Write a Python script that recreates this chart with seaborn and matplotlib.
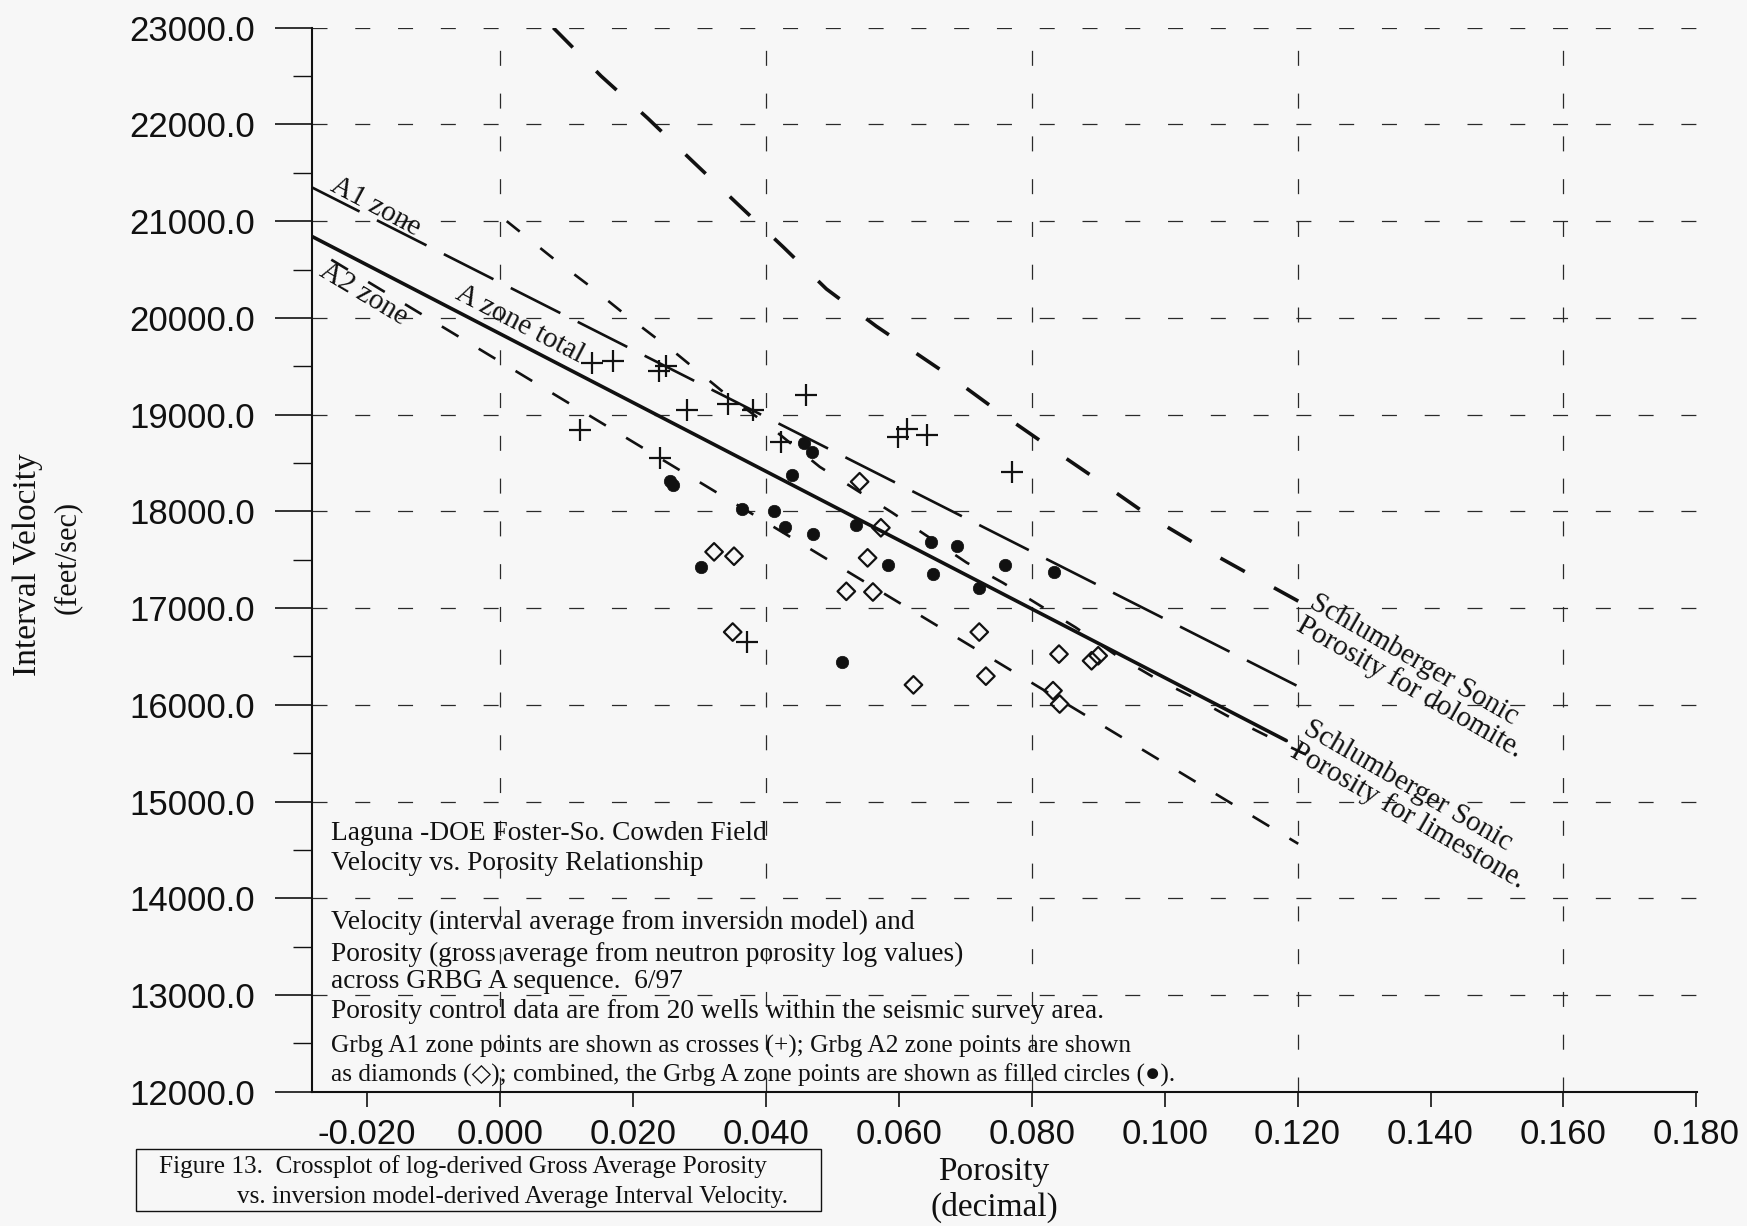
import matplotlib
matplotlib.use("Agg")
import matplotlib.pyplot as plt
import seaborn as sns
from matplotlib.ticker import MultipleLocator, FuncFormatter
from matplotlib.patches import Rectangle

# ---------------- data ----------------
# Grbg A1 zone points (crosses)
a1_porosity = [0.0138, 0.0170, 0.0239, 0.0249, 0.0281, 0.0343, 0.0380, 0.0121,
               0.0241, 0.0461, 0.0423, 0.0599, 0.0612, 0.0642, 0.0771, 0.0371]
a1_velocity = [19533, 19557, 19446, 19498, 19049, 19108, 19049, 18842,
               18555, 19204, 18721, 18772, 18847, 18790, 18410, 16648]

# Grbg A2 zone points (open diamonds)
a2_porosity = [0.0322, 0.0352, 0.0541, 0.0573, 0.0553, 0.0521, 0.0561, 0.0350,
               0.0721, 0.0841, 0.0890, 0.0900, 0.0731, 0.0622, 0.0832, 0.0842]
a2_velocity = [17581, 17536, 18306, 17830, 17519, 17173, 17166, 16752,
               16752, 16524, 16455, 16507, 16296, 16206, 16146, 16008]

# Grbg A combined points (filled circles)
a_porosity = [0.0255, 0.0260, 0.0458, 0.0469, 0.0439, 0.0364, 0.0412, 0.0429,
              0.0471, 0.0536, 0.0649, 0.0688, 0.0584, 0.0651, 0.0720, 0.0760,
              0.0833, 0.0303, 0.0515]
a_velocity = [18313, 18272, 18704, 18610, 18375, 18023, 18002, 17840,
              17764, 17857, 17685, 17640, 17443, 17356, 17208, 17443,
              17372, 17425, 16441]

# Regression lines (end points)
a1_fit_x = [-0.0286, 0.1199]
a1_fit_y = [21359, 16197]
a2_fit_x = [-0.0254, 0.1201]
a2_fit_y = [20602, 14563]
atot_fit_x = [-0.0296, 0.1183]
atot_fit_y = [20888, 15630]

# Schlumberger sonic porosity curves
dolomite_x = [0.0080, 0.0152, 0.0222, 0.0290, 0.0357, 0.0426, 0.0491, 0.0566,
              0.0677, 0.0752, 0.0828, 0.0905, 0.0980, 0.1060, 0.1141, 0.1221]
dolomite_y = [23000, 22500, 22065, 21617, 21180, 20733, 20299, 19914,
              19397, 19020, 18658, 18297, 17936, 17608, 17299, 16996]
limestone_x = [0.0010, 0.0081, 0.0134, 0.0185, 0.0267, 0.0334, 0.0409, 0.0481,
               0.0590, 0.0702, 0.0757, 0.0866, 0.0928, 0.0988, 0.1048, 0.1103,
               0.1163, 0.1221]
limestone_y = [21000, 20609, 20334, 20052, 19621, 19243, 18860, 18460,
               17987, 17470, 17260, 16800, 16507, 16267, 16060, 15853,
               15647, 15458]

# porosity values that carry a vertical grid line
x_grid_positions = [0.0, 0.04, 0.08, 0.12, 0.16]

# ---------------- style ----------------
sns.set_style("ticks")
BG = "#f7f7f7"
INK = "#111111"
SERIF = ["Liberation Serif", "DejaVu Serif", "DejaVu Sans"]
SANS = ["Liberation Sans", "DejaVu Sans"]
plt.rcParams["font.family"] = SERIF
plt.rcParams["axes.unicode_minus"] = False
plt.rcParams["lines.scale_dashes"] = False
plt.rcParams["text.color"] = INK

FW, FH = 1747, 1226


def fx(px):
    return px / FW


def fy(py):
    return 1 - py / FH


fig = plt.figure(figsize=(FW / 100, FH / 100), dpi=100, facecolor=BG)
ax_left, ax_right, ax_top, ax_bot = 312, 1697, 27.7, 1091.7
ax = fig.add_axes([fx(ax_left), fy(ax_bot), (ax_right - ax_left) / FW, (ax_bot - ax_top) / FH])
ax.set_facecolor(BG)

ax.set_xlim(-0.0283, 0.1801)
ax.set_ylim(12000, 23000)

# grid: dashed horizontal at every 1000, vertical every 0.04
grid_kw = dict(color="#2a2a2a", linewidth=0.9, linestyle=(0, (10.8, 20)))
ax.xaxis.set_major_locator(MultipleLocator(0.02))
ax.yaxis.set_major_locator(MultipleLocator(1000))
ax.yaxis.set_minor_locator(MultipleLocator(500))
ax.grid(False)
ax.grid(True, which="major", axis="y", **grid_kw)
for gx in x_grid_positions:
    ax.axvline(gx, zorder=0.5, **grid_kw)

ax.xaxis.set_major_formatter(FuncFormatter(lambda v, p: f"{v:.3f}"))
ax.yaxis.set_major_formatter(FuncFormatter(lambda v, p: f"{v:.1f}"))

ax.tick_params(axis="y", which="major", direction="out", length=27, width=1.2,
               pad=14, labelsize=25, colors=INK)
ax.tick_params(axis="y", which="minor", direction="out", length=14, width=1.0, colors=INK)
ax.tick_params(axis="x", which="major", direction="out", length=11, width=1.2,
               pad=8, labelsize=25, colors=INK)
for lab in ax.get_xticklabels() + ax.get_yticklabels():
    lab.set_family(SANS)

for side in ("top", "right"):
    ax.spines[side].set_visible(False)
for side in ("left", "bottom"):
    ax.spines[side].set_linewidth(1.5)
    ax.spines[side].set_color(INK)

# ---------------- lines ----------------
line_specs = [
    (a1_fit_x, a1_fit_y, 1.9, (0, (40, 14))),
    (a2_fit_x, a2_fit_y, 1.9, (0, (14, 17))),
    (atot_fit_x, atot_fit_y, 2.6, "-"),
    (dolomite_x, dolomite_y, 2.6, (0, (20, 24))),
    (limestone_x, limestone_y, 1.9, (0, (12, 19))),
]
for xs, ys, lw, ls in line_specs:
    sns.lineplot(x=xs, y=ys, ax=ax, color=INK, linewidth=lw, linestyle=ls,
                 sort=False, estimator=None, clip_on=True)

# ---------------- points ----------------
sns.scatterplot(x=a1_porosity, y=a1_velocity, ax=ax, marker="+", s=256,
                color=INK, linewidth=1.6, zorder=5)
sns.scatterplot(x=a2_porosity, y=a2_velocity, ax=ax, marker="D", s=80,
                facecolor="none", edgecolor=INK, linewidth=1.6, zorder=5)
sns.scatterplot(x=a_porosity, y=a_velocity, ax=ax, marker="o", s=80,
                color=INK, edgecolor=INK, linewidth=0.5, zorder=5)

# ---------------- axis titles ----------------
fig.text(fx(28), fy(565), "Interval Velocity", rotation=90, ha="center", va="center",
         fontsize=24)
fig.text(fx(67), fy(557), "(feet/sec)", rotation=90, ha="center", va="center",
         fontsize=22)
fig.text(fx(994), fy(1172), "Porosity", ha="center", va="center", fontsize=24)
fig.text(fx(994), fy(1207), "(decimal)", ha="center", va="center", fontsize=24)

# ---------------- line labels ----------------
lab_kw = dict(ha="center", va="center", rotation_mode="anchor")
fig.text(fx(375), fy(207), "A1 zone", rotation=-28, fontsize=21, **lab_kw)
fig.text(fx(363), fy(294), "A2 zone", rotation=-31, fontsize=21, **lab_kw)
fig.text(fx(520), fy(324), "A zone total", rotation=-27.4, fontsize=21, **lab_kw)
fig.text(fx(1416), fy(676), "Schlumberger Sonic\nPorosity for dolomite.",
         rotation=-30, multialignment="left", linespacing=1.0, fontsize=21, **lab_kw)
fig.text(fx(1414), fy(805), "Schlumberger Sonic\nPorosity for limestone.",
         rotation=-30, multialignment="left", linespacing=1.0, fontsize=21, **lab_kw)

# ---------------- annotation block ----------------
notes = [
    (833, "Laguna -DOE Foster-So. Cowden Field", 19.7),
    (863, "Velocity vs. Porosity Relationship", 19.7),
    (922, "Velocity (interval average from inversion model) and", 19.7),
    (954, "Porosity (gross average from neutron porosity log values)", 19.7),
    (981, "across GRBG A sequence.  6/97", 19.7),
    (1011, "Porosity control data are from 20 wells within the seismic survey area.", 19.7),
    (1046, "Grbg A1 zone points are shown as crosses (+); Grbg A2 zone points are shown", 18.3),
    (1075, "as diamonds (\u25c7); combined, the Grbg A zone points are shown as filled circles (\u25cf).", 18.3),
]
for py, txt, size in notes:
    fig.text(fx(331), fy(py), txt, ha="left", va="center", fontsize=size)

# ---------------- figure caption box ----------------
fig.patches.append(Rectangle((fx(136), fy(1211)), fx(821) - fx(136), fy(1149) - fy(1211),
                             transform=fig.transFigure, facecolor=BG, edgecolor=INK,
                             linewidth=1.0))
fig.text(fx(159), fy(1167), "Figure 13.  Crossplot of log-derived Gross Average Porosity",
         ha="left", va="center", fontsize=18.2)
fig.text(fx(237), fy(1197), "vs. inversion model-derived Average Interval Velocity.",
         ha="left", va="center", fontsize=18.2)

fig.savefig("out.png", dpi=100, facecolor=BG)
